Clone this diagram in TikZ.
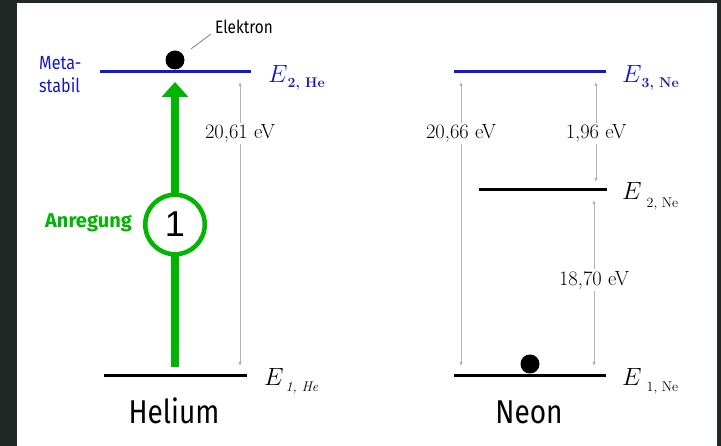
\documentclass[tikz,border=0pt]{standalone}
\usepackage{fontspec}
\newfontfamily\fira[FakeStretch=0.85]{Fira Sans}
\newfontfamily\firawide{Fira Sans}
\newfontfamily\arial{Liberation Sans}
\usetikzlibrary{arrows.meta}
\definecolor{lvblue}{RGB}{22,22,205}
\definecolor{lvgreen}{RGB}{0,182,0}
\definecolor{bgdark}{RGB}{34,40,38}
\tikzset{
  level/.style={line width=3pt},
  gar/.style={draw=gray!60, line width=0.8pt, -{Latex[length=4pt,width=3.5pt]}},
  ev/.style={font=\fontsize{20.5}{21}\selectfont, inner sep=1.5pt},
  sans/.style={font=\fira\fontsize{#1}{#1}\selectfont, inner sep=0pt},
  elec/.style={circle, fill=black, minimum size=19pt, inner sep=0pt},
  elab/.style={anchor=base west, inner sep=0pt}
}
\newcommand\bigE{\fontsize{28}{28}\selectfont$E$\fontsize{14}{14}\selectfont}
\begin{document}
\begin{tikzpicture}[x=1pt,y=-1pt]
\useasboundingbox (0,0) rectangle (721,446);
\fill[bgdark] (0,0) rectangle (721,446);
\fill[white] (17,3) rectangle (717,446);

% levels
\coordinate (he2a) at (100,72);  \coordinate (he2b) at (251,72);
\coordinate (he1a) at (104,376); \coordinate (he1b) at (247,376);
\coordinate (ne3a) at (454,72);  \coordinate (ne3b) at (606,72);
\coordinate (ne2a) at (479,190); \coordinate (ne2b) at (607,190);
\coordinate (ne1a) at (454,376); \coordinate (ne1b) at (606,376);
\draw[level, lvblue] (he2a) -- (he2b);
\draw[level] (he1a) -- (he1b);
\draw[level, lvblue] (ne3a) -- (ne3b);
\draw[level] (ne2a) -- (ne2b);
\draw[level] (ne1a) -- (ne1b);

% green excitation arrow
\coordinate (gb) at (175,367);
\coordinate (gt) at (175,82);
\draw[lvgreen, line width=8pt, -{Triangle[width=26pt,length=15pt]}] (gb) -- (gt);
\node[circle, draw=lvgreen, line width=4.5pt, fill=white, minimum size=59.5pt, inner sep=0pt,
      font=\arial\fontsize{36}{36}\selectfont] (c1) at (175,224.5) {1};
\node[anchor=base east, inner sep=0pt, text=lvgreen, font=\firawide\bfseries\fontsize{20}{20}\selectfont] (anr) at (132,228) {Anregung};

% electrons
\node[elec] (eHe) at (175,60) {};
\node[elec] (eNe) at (530,364) {};
\node[sans=18, anchor=base west] (elk) at (215,34) {Elektron};
\coordinate (lk) at (191,49);
\draw[gray, line width=0.8pt] (lk) -- ([xshift=-4pt]elk.base west);

% metastabil
\node[sans=19, anchor=base west, text=lvblue] (m1) at (39,70) {Meta-};
\node[sans=19, anchor=base west, text=lvblue] (m2) at (39,93) {stabil};

% element names
\node[sans=33, anchor=base] (hel) at (174,424) {Helium};
\node[sans=33, anchor=base] (neo) at (529,424) {Neon};

% energy labels
\node[elab, text=lvblue] (E2He) at (268,83) {\bigE\raisebox{-5pt}{\textbf{2, He}}};
\node[elab] (E1He) at (264,386) {\bigE\hspace{2pt}\raisebox{-6pt}{\textit{1, He}}};
\node[elab, text=lvblue] (E3Ne) at (622,83) {\bigE\raisebox{-5pt}{\textbf{3, Ne}}};
\node[elab] (E2Ne) at (622,200) {\bigE\hspace{5pt}\raisebox{-8pt}{2, Ne}};
\node[elab] (E1Ne) at (622,386) {\bigE\hspace{5pt}\raisebox{-6pt}{1, Ne}};

% energy differences
\node[ev] (d1) at (240,133.5) {20,61 eV};
\node[ev] (d2) at (461,133.5) {20,66 eV};
\node[ev] (d3) at (596,133.5) {1,96 eV};
\node[ev] (d4) at (594,280) {18,70 eV};
\draw[gar, shorten >=10pt] (d1) -- (d1 |- he2a);
\draw[gar, shorten >=10pt] (d1) -- (d1 |- he1a);
\draw[gar, shorten >=10pt] (d2) -- (d2 |- ne3a);
\draw[gar, shorten >=10pt] (d2) -- (d2 |- ne1a);
\draw[gar, shorten >=10pt] (d3) -- (d3 |- ne3a);
\draw[gar, shorten >=8pt] (d3) -- (d3 |- ne2a);
\draw[gar, shorten >=10pt] (d4) -- (d4 |- ne2a);
\draw[gar, shorten >=10pt] (d4) -- (d4 |- ne1a);
\end{tikzpicture}
\end{document}
